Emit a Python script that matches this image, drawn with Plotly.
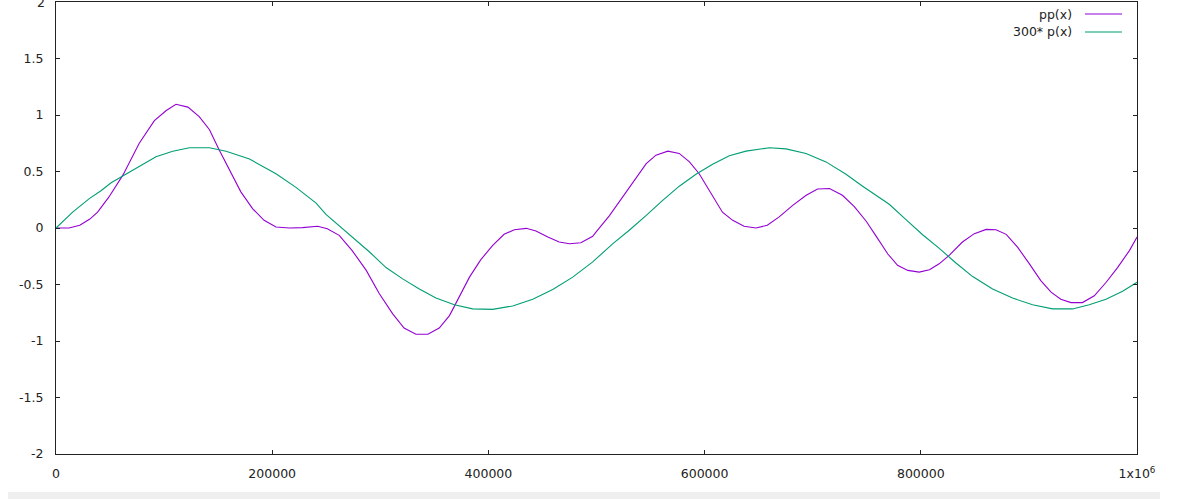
import plotly.graph_objects as go

# ---- data ----
pp_x = [0, 12000, 22000, 31000, 38500, 49000, 62000, 77000, 91000, 102000, 111000,
        122000, 132500, 142000, 151000, 160500, 171000, 182000, 192500, 203500, 216000,
        228000, 242000, 251000, 262000, 274000, 287000, 299000, 311500, 322000, 333000,
        344000, 354500, 364000, 373000, 382500, 393000, 404000, 414500, 424000, 435000,
        444000, 455000, 465500, 475000, 485500, 496500, 499500, 512000, 524000, 536500,
        546000, 555000, 566000, 576500, 586000, 595000, 606000, 616500, 626000, 636500,
        647500, 658000, 669000, 681500, 694000, 704500, 715500, 727500, 738500, 749500,
        758500, 769500, 778500, 788000, 798500, 808000, 817000, 826500, 838500, 849500,
        860500, 869500, 879000, 889500, 900500, 911000, 920500, 929500, 939000, 949500,
        960500, 971500, 982000, 993000, 1000000]
pp_y = [0, 0, 0.024, 0.077, 0.14, 0.275, 0.47, 0.75, 0.95, 1.04, 1.095,
        1.07, 0.985, 0.87, 0.69, 0.51, 0.32, 0.17, 0.068, 0.009, 0,
        0.003, 0.015, -0.006, -0.065, -0.20, -0.375, -0.58, -0.76, -0.885, -0.94,
        -0.94, -0.885, -0.775, -0.61, -0.435, -0.28, -0.154, -0.056, -0.015, -0.003,
        -0.027, -0.08, -0.124, -0.14, -0.13, -0.074, -0.036, 0.11, 0.275, 0.44,
        0.57, 0.645, 0.68, 0.66, 0.585, 0.48, 0.305, 0.14, 0.068, 0.015,
        0, 0.024, 0.098, 0.20, 0.29, 0.345, 0.35, 0.29, 0.19, 0.06,
        -0.07, -0.23, -0.33, -0.375, -0.39, -0.37, -0.317, -0.24, -0.124, -0.05,
        -0.012, -0.015, -0.056, -0.17, -0.317, -0.465, -0.568, -0.63, -0.66, -0.66,
        -0.60, -0.48, -0.35, -0.20, -0.08]

p_x = [0, 15400, 30800, 41600, 51000, 61700, 74000, 92500, 108000, 123400, 142000,
       157300, 179000, 194300, 203500, 222000, 240600, 249750, 259100, 274400, 289800,
       305300, 320700, 336100, 351500, 368500, 385400, 403900, 422500, 441000, 459500,
       478000, 496500, 514900, 530300, 545800, 561200, 576600, 592000, 607400, 622900,
       638300, 659900, 675300, 693800, 712300, 730800, 746200, 758500, 770800, 786300,
       801700, 817100, 832500, 848000, 866400, 884900, 903400, 921900, 940400, 955800,
       971300, 986700, 1000000]
p_y = [0, 0.14, 0.26, 0.33, 0.40, 0.46, 0.53, 0.63, 0.68, 0.71, 0.71,
       0.68, 0.61, 0.53, 0.48, 0.36, 0.22, 0.12, 0.044, -0.08, -0.21,
       -0.35, -0.45, -0.54, -0.62, -0.68, -0.716, -0.72, -0.69, -0.63, -0.545,
       -0.435, -0.30, -0.14, -0.02, 0.11, 0.245, 0.37, 0.475, 0.565, 0.64,
       0.68, 0.71, 0.70, 0.66, 0.585, 0.475, 0.37, 0.29, 0.21, 0.074,
       -0.06, -0.18, -0.31, -0.43, -0.54, -0.62, -0.68, -0.716, -0.716, -0.68,
       -0.63, -0.56, -0.48]

x_ticks = [0, 200000, 400000, 600000, 800000, 1000000]
x_tick_labels = ["0", "200000", "400000", "600000", "800000", "1x10<sup>6</sup>"]
y_ticks = [-2, -1.5, -1, -0.5, 0, 0.5, 1, 1.5, 2]
y_tick_labels = ["-2", "-1.5", "-1", "-0.5", "0", "0.5", "1", "1.5", "2"]
series_names = ["pp(x)", "300* p(x)"]
colors = ["#9400D3", "#009E73"]

W, H = 1179, 499
L, R, T, B = 56, 42, 2, 45

fig = go.Figure()
fig.add_trace(go.Scatter(x=pp_x, y=pp_y, mode="lines", name=series_names[0],
                         line=dict(color=colors[0], width=1.1)))
fig.add_trace(go.Scatter(x=p_x, y=p_y, mode="lines", name=series_names[1],
                         line=dict(color=colors[1], width=1.1)))

font = dict(family="DejaVu Sans, Verdana, sans-serif", size=12.5, color="#222")
axis_common = dict(showgrid=False, zeroline=False, showline=True, linecolor="#222",
                   linewidth=1, mirror="ticks", ticks="inside", ticklen=4,
                   tickcolor="#222", tickfont=font)
fig.update_xaxes(range=[0, 1000000], tickvals=x_ticks, ticktext=x_tick_labels,
                 ticklabelstandoff=8, **axis_common)
fig.update_yaxes(range=[-2, 2], tickvals=y_ticks, ticktext=y_tick_labels,
                 ticklabelstandoff=9, **axis_common)

pw = W - L - R
ph = H - T - B
def px2paper_x(px):
    return (px - L) / pw
def px2paper_y(py):
    return (H - B - py) / ph

annotations = []
shapes = []
for i, (name, col) in enumerate(zip(series_names, colors)):
    py = 14 + 18 * i
    annotations.append(dict(xref="paper", yref="paper", x=px2paper_x(1074), y=px2paper_y(py),
                            text=name, showarrow=False, xanchor="right", yanchor="middle",
                            font=font))
    shapes.append(dict(type="line", xref="paper", yref="paper",
                       x0=px2paper_x(1085), x1=px2paper_x(1122),
                       y0=px2paper_y(py), y1=px2paper_y(py),
                       line=dict(color=col, width=1.1)))

# top tick label "2" (cut by the top edge, as in the reference)
annotations.append(dict(xref="paper", yref="y", x=0, y=y_ticks[-1], text=y_tick_labels[-1],
                        showarrow=False, xanchor="right", yanchor="middle", xshift=-9,
                        font=font))

# light grey strip at the bottom of the screenshot
shapes.append(dict(type="rect", xref="paper", yref="paper",
                   x0=px2paper_x(8), x1=px2paper_x(1160),
                   y0=px2paper_y(499), y1=px2paper_y(492),
                   line=dict(width=0), fillcolor="#efefef", layer="below"))

fig.update_layout(width=W, height=H, margin=dict(l=L, r=R, t=T, b=B),
                  paper_bgcolor="white", plot_bgcolor="white", showlegend=False,
                  annotations=annotations, shapes=shapes, font=font)

fig.write_html("out.html")
